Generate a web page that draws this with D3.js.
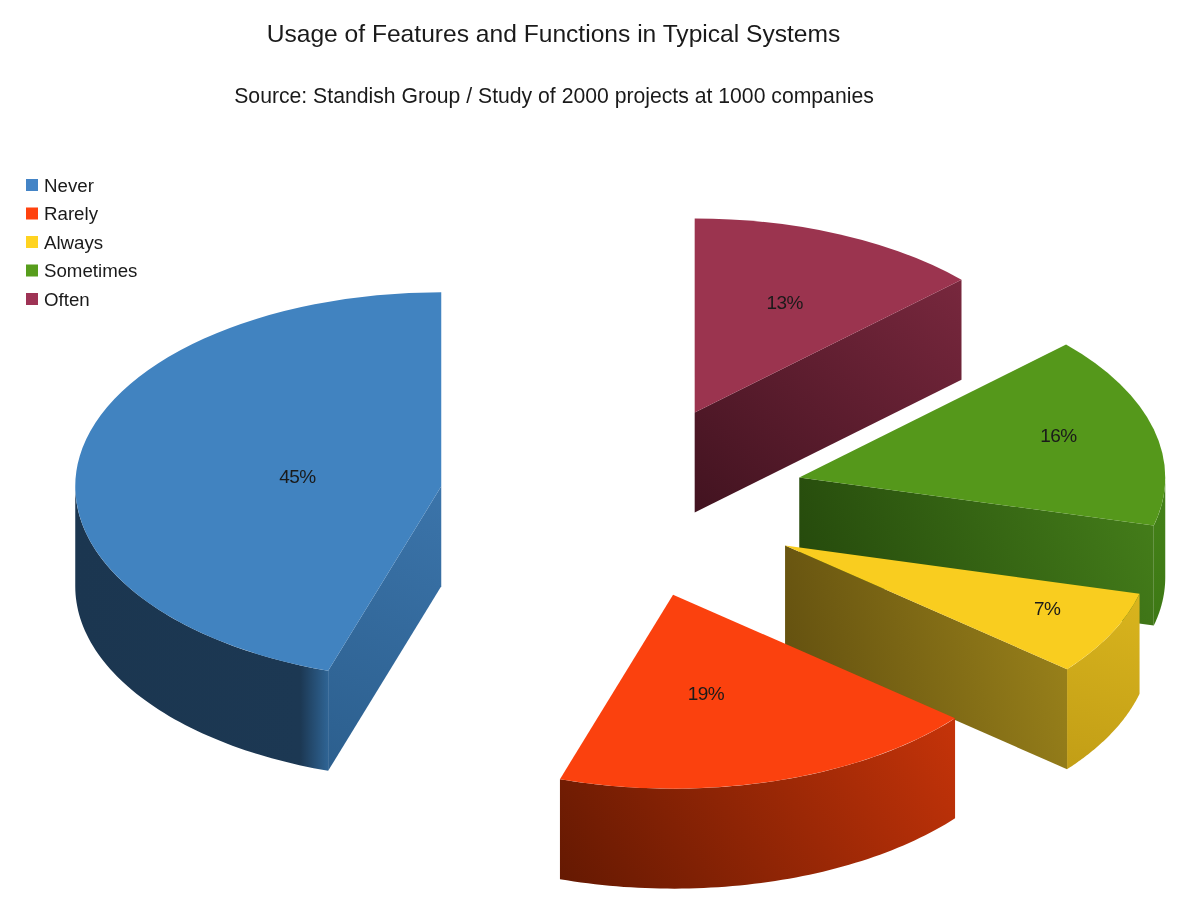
<!DOCTYPE html>
<html>
<head>
<meta charset="utf-8">
<script src="https://cdn.jsdelivr.net/npm/d3@7"></script>
<style>
  html, body { margin: 0; background: #fff; }
  text { font-family: "Liberation Sans", sans-serif; fill: #1a1a1a; }
</style>
</head>
<body>
<div id="chart-area"></div>
<script>
const categories = ["Never", "Rarely", "Always", "Sometimes", "Often"];
const shares = [45, 19, 7, 16, 13];
const topColors = ["#4183c0", "#fb410e", "#f9cd1f", "#55981b", "#9b344f"];
const legendColors = ["#4484c6", "#ff420e", "#ffd320", "#579d1c", "#9e3355"];
const cutShades = [
  ["#2c5f8e", "#3b74aa"], null,
  ["#655210", "#9c841b"],
  ["#25490c", "#47821b"],
  ["#421320", "#842c44"]
];
const outerShades = [
  [[0, "#1b3650"], [0.89, "#1c3853"], [1, "#2f6494"]],
  [[0, "#651902"], [1, "#d2370a"]],
  [[0, "#c29e16"], [1, "#e5c021"]],
  [[0, "#3d7814"], [1, "#4a8a1c"]],
  null
];
// label anchor relative to the slice apex, as a fraction of the radii
const labelAnchors = [[-0.393, -0.05], [0.09, 0.51], [0.716, 0.325], [0.708, -0.216], [0.246, -0.567]];

const width = 1191;
const height = 901;
const centerX = 622;
const centerY = 501.5;
const rx = 366;
const ry = 194;
const depth = 100;
const explode = 0.5;

const svg = d3.select("#chart-area")
  .append("svg")
  .attr("width", width)
  .attr("height", height)
  .style("display", "block")
  .style("filter", "blur(0.45px)");

const defs = svg.append("defs");

svg.append("text")
  .attr("x", 553.5)
  .attr("y", 42)
  .attr("text-anchor", "middle")
  .attr("font-size", 24.6)
  .text("Usage of Features and Functions in Typical Systems");

svg.append("text")
  .attr("x", 554)
  .attr("y", 103)
  .attr("text-anchor", "middle")
  .attr("font-size", 21.2)
  .text("Source: Standish Group / Study of 2000 projects at 1000 companies");

const legendY = d3.scalePoint()
  .domain(categories)
  .range([185, 299]);

const legend = svg.append("g").attr("class", "legend");

categories.forEach((category, i) => {
  const row = legend.append("g")
    .attr("transform", `translate(26, ${legendY(category)})`);

  row.append("rect")
    .attr("y", -6)
    .attr("width", 12)
    .attr("height", 12)
    .attr("fill", legendColors[i]);

  row.append("text")
    .attr("x", 18)
    .attr("y", 6.5)
    .attr("font-size", 18.7)
    .text(category);
});

// counter-clockwise from 12 o'clock, d3 angles go negative
const slices = d3.pie()
  .sort(null)
  .startAngle(0)
  .endAngle(-2 * Math.PI)(shares);

const arc = d3.arc()
  .innerRadius(0)
  .outerRadius(rx);

const rim = a => [rx * Math.sin(a), -ry * Math.cos(a)];

function addGradient(id, p0, p1, stops) {
  const grad = defs.append("linearGradient")
    .attr("id", id)
    .attr("gradientUnits", "userSpaceOnUse")
    .attr("x1", p0[0]).attr("y1", p0[1])
    .attr("x2", p1[0]).attr("y2", p1[1]);
  stops.forEach(s => {
    grad.append("stop").attr("offset", s[0]).attr("stop-color", s[1]);
  });
  return `url(#${id})`;
}

const line = d3.line();

function drawSlice(d, i) {
  const mid = (d.startAngle + d.endAngle) / 2;
  const apexX = centerX + explode * rx * Math.sin(mid);
  const apexY = centerY - explode * ry * Math.cos(mid);

  const g = svg.append("g")
    .attr("class", "slice")
    .attr("transform", `translate(${apexX}, ${apexY})`);

  // outer wall, only the part of the rim that faces the viewer
  const from = Math.min(d.startAngle, -Math.PI / 2);
  const to = Math.max(d.endAngle, -1.5 * Math.PI);
  if (from > to) {
    const rimAngles = d3.range(0, 61).map(k => from + (to - from) * k / 60);
    const upper = rimAngles.map(rim);
    const lower = upper.map(p => [p[0], p[1] + depth]).reverse();
    const xs = upper.map(p => p[0]);
    const flat = outerShades[i].length > 2;
    const p0 = flat ? [d3.min(xs), 0] : [d3.min(xs), upper[xs.indexOf(d3.min(xs))][1] + depth];
    const p1 = flat ? [d3.max(xs), 0] : [d3.max(xs), upper[xs.indexOf(d3.max(xs))][1] - depth];
    g.append("path")
      .attr("d", line(upper.concat(lower)) + "Z")
      .attr("fill", addGradient(`outer-${i}`, p0, p1, outerShades[i]));
  }

  // flat cut wall, start side or end side depending on which faces us
  if (cutShades[i]) {
    const cutAngle = Math.sin(d.startAngle) > 0.01 ? d.startAngle : d.endAngle;
    const p = rim(cutAngle);
    const corners = [[0, 0], p, [p[0], p[1] + depth], [0, depth]];
    const left = p[0] < 0 ? [p[0], p[1] + depth] : [0, depth];
    const right = p[0] < 0 ? [0, 0] : [p[0], p[1] - depth];
    g.append("path")
      .attr("d", line(corners) + "Z")
      .attr("fill", addGradient(`cut-${i}`, left, right, [[0, cutShades[i][0]], [1, cutShades[i][1]]]));
  }

  g.append("path")
    .attr("transform", `scale(1, ${ry / rx})`)
    .attr("d", arc(d))
    .attr("fill", topColors[i]);

  g.append("text")
    .attr("x", labelAnchors[i][0] * rx)
    .attr("y", labelAnchors[i][1] * ry + 6.5)
    .attr("text-anchor", "middle")
    .attr("font-size", 19)
    .attr("letter-spacing", -0.6)
    .text(`${shares[i]}%`);
}

// back to front so nearer slices cover the ones behind
[0, 4, 3, 2, 1].forEach(i => drawSlice(slices[i], i));
</script>
</body>
</html>
